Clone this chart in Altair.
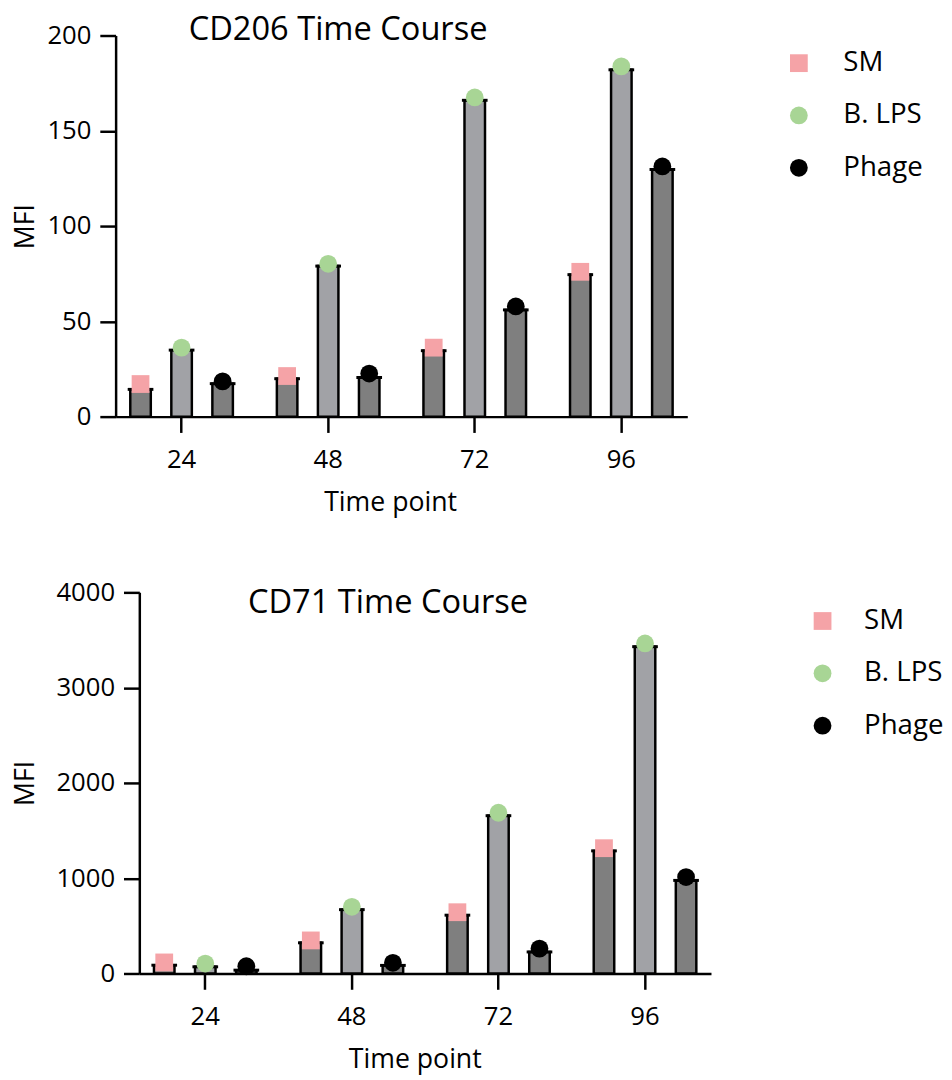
import altair as alt
import pandas as pd

# ---- data ----
times = ["24", "48", "72", "96"]
series = ["SM", "B. LPS", "Phage"]

cd206_sm_bar = [14.3, 19.9, 34.6, 74.5]
cd206_lps_bar = [34.9, 79.0, 166.0, 182.0]
cd206_phage_bar = [17.3, 20.5, 56.0, 129.7]
cd206_sm_pt = [17.1, 21.3, 36.2, 76.0]
cd206_lps_pt = [36.2, 80.2, 167.5, 183.8]
cd206_phage_pt = [18.5, 22.6, 57.8, 131.3]

cd71_sm_bar = [87, 322, 612, 1287]
cd71_lps_bar = [70, 670, 1656, 3430]
cd71_phage_bar = [35, 85, 226, 977]
cd71_sm_pt = [116, 347, 643, 1315]
cd71_lps_pt = [104, 700, 1687, 3464]
cd71_phage_pt = [76, 112, 261, 1012]

cd206_ticks = [0, 50, 100, 150, 200]
cd71_ticks = [0, 1000, 2000, 3000, 4000]

# ---- styles ----
FONT = "Open Sans"
bar_fill = {"SM": "#7f7f7f", "B. LPS": "#a1a2a6", "Phage": "#7f7f7f"}
pt_colors = ["#f5a3a7", "#a8d595", "#000000"]
pt_shapes = ["square", "circle", "circle"]
PLOT_W = 579


def panel(bars, pts, title, ticks, shift, title_dx, title_dy, y_title_pad,
          x_title_x, leg_x, leg_y, leg_off):
    rows = []
    for s, bv, pv in zip(series, bars, pts):
        for t, b, p in zip(times, bv, pv):
            rows.append({"time": t, "series": s, "bar": b, "pt": p, "fill": bar_fill[s]})
    df = pd.DataFrame(rows)

    xscale = alt.Scale(paddingInner=0.3, paddingOuter=0.1)
    if shift:
        xscale = alt.Scale(paddingInner=0.3, paddingOuter=0.1,
                           range=[shift, shift + PLOT_W])
    x = alt.X(
        "time:N",
        sort=times,
        scale=xscale,
        axis=alt.Axis(title="Time point", labelAngle=0, titleX=x_title_x,
                      titlePadding=17, labelPadding=15),
    )
    xoff = alt.XOffset("series:N", sort=series,
                       scale=alt.Scale(paddingInner=0.5, paddingOuter=0.0))
    yscale = alt.Scale(domain=[ticks[0], ticks[-1]], nice=False)
    yaxis = alt.Axis(title="MFI", values=ticks, format="d",
                     titlePadding=y_title_pad, offset=-shift)

    base = alt.Chart(df).encode(x=x, xOffset=xoff)
    bar_layer = base.mark_bar(stroke="black", strokeWidth=2.5).encode(
        y=alt.Y("bar:Q", scale=yscale, axis=yaxis),
        fill=alt.Fill("fill:N", scale=None),
    )
    cap_layer = base.mark_tick(color="black", thickness=3, size=26, opacity=1).encode(
        y=alt.Y("bar:Q", scale=yscale, axis=yaxis),
    )
    leg = alt.Legend(
        title=None, orient="none", legendX=leg_x, legendY=leg_y,
        symbolSize=324, labelFontSize=28, labelFont=FONT, labelColor="black",
        rowPadding=25, labelOffset=leg_off, symbolStrokeWidth=0, symbolOpacity=1,
    )
    pt_layer = base.mark_point(filled=True, opacity=1, size=324).encode(
        y=alt.Y("pt:Q", scale=yscale, axis=yaxis),
        color=alt.Color("series:N", sort=series,
                        scale=alt.Scale(domain=series, range=pt_colors), legend=leg),
        shape=alt.Shape("series:N", sort=series,
                        scale=alt.Scale(domain=series, range=pt_shapes), legend=leg),
    )
    return alt.layer(bar_layer, cap_layer, pt_layer).properties(
        width=PLOT_W + shift, height=386,
        title=alt.TitleParams(title, anchor="start", frame="group", dx=title_dx,
                              dy=title_dy, fontSize=33, font=FONT,
                              fontWeight="normal", color="black"),
    )


top = panel(
    [cd206_sm_bar, cd206_lps_bar, cd206_phage_bar],
    [cd206_sm_pt, cd206_lps_pt, cd206_phage_pt],
    "CD206 Time Course", cd206_ticks, 0, 74, 29, 8, 278, 678, 14, 31,
)
bottom = panel(
    [cd71_sm_bar, cd71_lps_bar, cd71_phage_bar],
    [cd71_sm_pt, cd71_lps_pt, cd71_phage_pt],
    "CD71 Time Course", cd71_ticks, 24, 134, 45, 17, 303, 702, 15, 28,
)

chart = alt.concat(top, bottom, columns=1, spacing=65).resolve_scale(
    color="independent", shape="independent", y="independent", x="independent"
).resolve_legend(color="independent", shape="independent").configure(
    background="white", padding={"left": 3, "top": 0, "right": 0, "bottom": 0},
).configure_view(stroke=None).configure_axis(
    domainColor="black", domainWidth=2.5, tickColor="black", tickWidth=2.5, tickSize=16,
    labelFont=FONT, labelFontSize=26, labelColor="black", labelPadding=9,
    titleFont=FONT, titleFontSize=27, titleColor="black", titleFontWeight="normal",
    grid=False,
)

chart.save("out.html", embed_options={"renderer": "svg", "actions": False})
